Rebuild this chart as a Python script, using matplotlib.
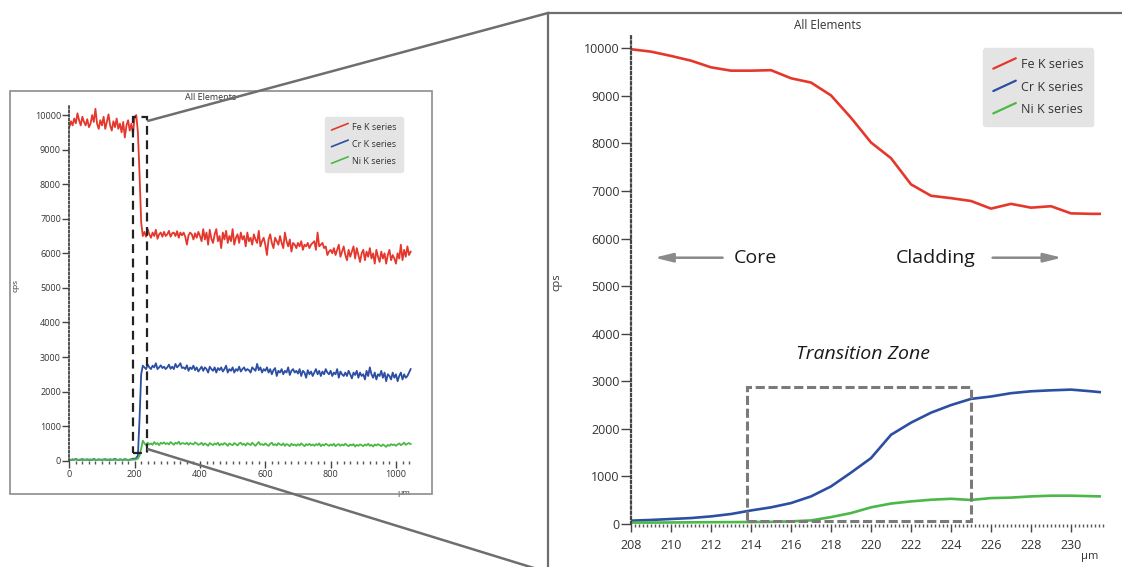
import numpy as np
import matplotlib
matplotlib.use("Agg")
import matplotlib.pyplot as plt
from matplotlib.lines import Line2D
from matplotlib.patches import Rectangle
from matplotlib.ticker import MultipleLocator
from matplotlib.legend_handler import HandlerBase

plt.rcParams['font.family'] = ['Open Sans', 'DejaVu Sans']

# ---------------- data ----------------
series_names = ["Fe K series", "Cr K series", "Ni K series"]
series_colors = ["#e5372c", "#2c4ea3", "#4cb847"]

overview_um = np.arange(0, 1050, 5)
fe_overview = [
    9650, 9820, 9700, 9900, 9760, 10050, 9850, 9700, 9950, 9800,
    9700, 9880, 9650, 9750, 10000, 9800, 10180, 9750, 9600, 9850,
    9700, 9950, 9600, 9800, 10020, 9700, 9550, 9820, 9650, 9900,
    9600, 9750, 9500, 9800, 9350, 9700, 9850, 9550, 9750, 9450,
    9950, 10000, 9500, 8300, 6900, 6500, 6620, 6480, 6700, 6550,
    6450, 6600, 6500, 6680, 6420, 6550, 6600, 6480, 6620, 6500,
    6550, 6650, 6480, 6580, 6600, 6500, 6640, 6450, 6600, 6520,
    6600, 6480, 6250, 6520, 6600, 6550, 6400, 6580, 6450, 6620,
    6500, 6350, 6700, 6400, 6600, 6250, 6680, 6420, 6300, 6550,
    6700, 6350, 6500, 6150, 6600, 6400, 6650, 6300, 6500, 6350,
    6700, 6250, 6450, 6550, 6300, 6600, 6400, 6500, 6200, 6600,
    6350, 6450, 6250, 6550, 6400, 6300, 6650, 6200, 6350, 6450,
    6250, 5950, 6400, 6550, 6300, 6150, 6450, 6350, 6250, 6500,
    6300, 6150, 6600, 6350, 6200, 6400, 6050, 6300, 6250, 6150,
    6300, 6200, 6350, 6100, 6250, 6200, 6300, 6150, 6250, 6300,
    6350, 6100, 6600, 6200, 6250, 6300, 6150, 6200, 5950, 6050,
    6100, 6000, 6150, 5950, 6100, 6250, 5900, 6050, 6200, 5950,
    5800, 6100, 5900, 6050, 6200, 5850, 6150, 5950, 5750, 6000,
    6100, 5800, 6050, 5900, 6150, 5850, 6000, 5700, 6100, 5900,
    5750, 6050, 5850, 6000, 5700, 5950, 6100, 5800, 5950, 5850,
    5700, 6000, 5850, 6250, 5800, 6100, 5900, 6200, 5950, 6050,
]
cr_overview = [
    30, 20, 40, 25, 50, 30, 20, 35, 45, 25,
    30, 40, 20, 35, 25, 50, 30, 20, 40, 30,
    25, 35, 45, 20, 30, 40, 25, 35, 50, 30,
    20, 40, 30, 25, 45, 35, 20, 30, 40, 60,
    50, 80, 150, 1200, 2500, 2750, 2700, 2650, 2780, 2700,
    2650, 2750, 2700, 2820, 2650, 2700, 2760, 2680, 2720, 2650,
    2700, 2780, 2660, 2720, 2650, 2800, 2700, 2750, 2820, 2680,
    2700, 2650, 2760, 2600, 2700, 2650, 2750, 2620, 2700, 2580,
    2650, 2720, 2600, 2700, 2650, 2550, 2720, 2650, 2600, 2700,
    2550, 2680, 2620, 2700, 2580, 2650, 2750, 2550, 2650, 2600,
    2700, 2550, 2650, 2600, 2720, 2580, 2650, 2700, 2600, 2650,
    2620, 2550, 2700, 2650, 2600, 2800, 2620, 2700, 2550, 2650,
    2600, 2700, 2550, 2650, 2500, 2620, 2680, 2450, 2600, 2550,
    2650, 2500, 2600, 2550, 2700, 2480, 2600, 2650, 2550, 2600,
    2520, 2650, 2450, 2600, 2550, 2400, 2620, 2500, 2580, 2450,
    2550, 2650, 2500, 2600, 2450, 2580, 2500, 2650, 2550, 2500,
    2600, 2450, 2550, 2500, 2650, 2400, 2580, 2500, 2450, 2550,
    2450, 2600, 2500, 2380, 2550, 2480, 2600, 2400, 2550, 2450,
    2500, 2350, 2600, 2450, 2700, 2500, 2400, 2550, 2350, 2500,
    2450, 2600, 2400, 2550, 2300, 2500, 2450, 2350, 2550, 2400,
    2500, 2300, 2450, 2550, 2350, 2500, 2400, 2450, 2550, 2650,
]
ni_overview = [
    20, 30, 15, 25, 35, 20, 30, 25, 15, 30,
    25, 20, 35, 25, 15, 30, 20, 25, 35, 20,
    30, 25, 20, 35, 25, 15, 30, 20, 25, 30,
    20, 35, 25, 15, 30, 25, 20, 35, 25, 30,
    30, 40, 60, 150, 350, 580, 500, 450, 520, 470,
    500, 460, 540, 480, 510, 450, 520, 490, 530, 480,
    510, 470, 540, 500, 460, 520, 490, 550, 470, 510,
    500, 480, 520, 460, 510, 490, 470, 530, 500, 460,
    480, 520, 450, 500, 470, 430, 510, 480, 450, 500,
    470, 520, 440, 490, 460, 510, 480, 430, 500, 470,
    450, 510, 480, 440, 500, 520, 460, 490, 440, 510,
    480, 450, 520, 470, 430, 490, 540, 460, 480, 450,
    500, 460, 430, 490, 520, 450, 480, 440, 510, 470,
    450, 500, 430, 480, 460, 420, 490, 450, 470, 430,
    480, 440, 500, 460, 420, 480, 450, 490, 440, 470,
    430, 480, 450, 500, 420, 470, 440, 490, 460, 430,
    470, 440, 490, 420, 460, 480, 430, 470, 440, 490,
    450, 420, 470, 440, 480, 410, 460, 430, 470, 450,
    420, 470, 440, 490, 430, 460, 410, 470, 440, 480,
    450, 420, 470, 440, 400, 460, 430, 480, 450, 470,
    430, 470, 500, 450, 480, 520, 460, 490, 510, 480,
]

zoom_um = [208, 209, 210, 211, 212, 213, 214, 215, 216, 217, 218, 219, 220,
           221, 222, 223, 224, 225, 226, 227, 228, 229, 230, 231, 231.5]
fe_zoom = [9980, 9930, 9840, 9740, 9600, 9530, 9530, 9540, 9370, 9280, 9010, 8540, 8020,
           7690, 7140, 6900, 6850, 6790, 6630, 6730, 6650, 6680, 6530, 6520, 6520]
cr_zoom = [70, 85, 105, 125, 160, 210, 285, 350, 440, 580, 790, 1080, 1385,
           1875, 2130, 2340, 2500, 2630, 2680, 2750, 2790, 2810, 2825, 2790, 2770]
ni_zoom = [30, 30, 32, 35, 38, 40, 42, 45, 55, 75, 145, 230, 350,
           430, 475, 510, 530, 505, 545, 555, 580, 595, 595, 585, 580]

overview_box = (196, 239, 214, 9950)        # x0, x1, y0, y1 (µm, cps)
transition_box = (213.8, 225.0, 70, 2874)   # x0, x1, y0, y1 (µm, cps)

# ---------------- figure ----------------
W, H = 1122, 567
fig = plt.figure(figsize=(W / 100, H / 100), dpi=100)
fig.patch.set_facecolor("white")


def rect(x0, y0, x1, y1):
    return [x0 / W, 1 - y1 / H, (x1 - x0) / W, (y1 - y0) / H]


class DiagLine(HandlerBase):
    def create_artists(self, legend, orig_handle, xdescent, ydescent,
                       width, height, fontsize, trans):
        x0, y0 = -xdescent, -ydescent
        ln = Line2D([x0, x0 + width], [y0 + 0.05 * height, y0 + 1.05 * height],
                    color=orig_handle.get_color(), lw=orig_handle.get_linewidth(),
                    solid_capstyle='round', transform=trans)
        return [ln]


def style_axes(ax, tick_fs, ylen, xmaj, xmin_len, spine_lw):
    for s in ["top", "right", "bottom"]:
        ax.spines[s].set_visible(False)
    ax.spines["left"].set_linestyle((0, (1, 1.3)))
    ax.spines["left"].set_linewidth(spine_lw)
    ax.spines["left"].set_color("#444444")
    ax.tick_params(axis="y", which="major", length=ylen, width=1.0, color="#444444",
                   labelsize=tick_fs, labelcolor="#333333", pad=1)
    ax.tick_params(axis="x", which="major", length=xmaj, width=1.0, color="#444444",
                   labelsize=tick_fs, labelcolor="#333333", pad=2)
    ax.tick_params(axis="x", which="minor", length=xmin_len, width=1.0, color="#555555")
    ax.tick_params(axis="y", which="minor", length=0)
    ax.set_facecolor("none")


# ---------- left overview panel ----------
axL = fig.add_axes(rect(69.3, 106.4, 412.3, 460.7))
for vals, c in zip([fe_overview, cr_overview, ni_overview], series_colors):
    axL.plot(overview_um, vals, color=c, lw=1.3)
axL.set_xlim(0, 1050)
axL.set_ylim(0, 10250)
axL.yaxis.set_major_locator(MultipleLocator(1000))
axL.xaxis.set_major_locator(MultipleLocator(200))
axL.xaxis.set_minor_locator(MultipleLocator(20))
style_axes(axL, 6.5, 5, 5, 2, 1.3)
axL.add_patch(Rectangle((overview_box[0], overview_box[2]),
                        overview_box[1] - overview_box[0], overview_box[3] - overview_box[2],
                        fill=False, ec="#222222", lw=1.6, linestyle=(0, (4, 2.5)), zorder=5))
axL.text(0.413, 1.024, "All Elements", transform=axL.transAxes, ha="center",
         va="center", fontsize=6.5, color="#333333")
axL.set_ylabel("cps", fontsize=6, color="#333333")
axL.yaxis.set_label_coords(-0.144, 0.496)
axL.set_xlabel("µm", fontsize=6, color="#333333")
axL.xaxis.set_label_coords(0.974, -0.083)
hL = [Line2D([], [], color=c, lw=1.2) for c in series_colors]
legL = axL.legend(hL, series_names, loc="upper left",
                  bbox_to_anchor=(325 / W, 1 - 116.7 / H), bbox_transform=fig.transFigure,
                  handler_map={Line2D: DiagLine()}, fontsize=6.5, frameon=True, fancybox=True,
                  facecolor="#e4e4e4", edgecolor="#e4e4e4", framealpha=1,
                  handlelength=1.85, handleheight=0.75, handletextpad=0.4,
                  labelspacing=0.85, borderpad=0.72, borderaxespad=0)
for t in legL.get_texts():
    t.set_color("#333333")

# ---------- right zoomed panel ----------
axR = fig.add_axes(rect(631, 35, 1106, 524))
for vals, c in zip([fe_zoom, cr_zoom, ni_zoom], series_colors):
    axR.plot(zoom_um, vals, color=c, lw=1.9, solid_capstyle='butt')
axR.set_xlim(208, 208 + (1106 - 631) / 20)
axR.set_ylim(0, (524 - 35) / 0.04757)
axR.yaxis.set_major_locator(MultipleLocator(1000))
axR.xaxis.set_major_locator(MultipleLocator(2))
axR.xaxis.set_minor_locator(MultipleLocator(0.2))
style_axes(axR, 9, 7, 6, 2.5, 1.6)
axR.tick_params(axis="x", which="major", pad=5)
axR.add_patch(Rectangle((transition_box[0], transition_box[2]),
                        transition_box[1] - transition_box[0], transition_box[3] - transition_box[2],
                        fill=False, ec="#7a7a7a", lw=2.2, linestyle=(0, (3, 1.2)), zorder=5))
axR.text(0.413, 1.02, "All Elements", transform=axR.transAxes, ha="center",
         va="center", fontsize=8.5, color="#333333")
axR.set_ylabel("cps", fontsize=8, color="#333333")
axR.yaxis.set_label_coords(-0.145, 0.495)
axR.set_xlabel("µm", fontsize=8, color="#333333")
axR.xaxis.set_label_coords(0.966, -0.056)

axR.text(219.6, 3574, "Transition Zone", ha="center", va="center", fontsize=14,
         style="italic", color="#1a1a1a")
axR.text(214.2, 5598, "Core", ha="center", va="center", fontsize=14, color="#1a1a1a")
axR.text(223.25, 5598, "Cladding", ha="center", va="center", fontsize=14, color="#1a1a1a")
arrow_kw = dict(arrowstyle="-|>,head_length=0.9,head_width=0.22", color="#8a8a8a",
                lw=1.8, mutation_scale=12, shrinkA=0, shrinkB=0)
axR.annotate("", xy=(209.17, 5598), xytext=(212.58, 5598), arrowprops=arrow_kw)
axR.annotate("", xy=(229.55, 5598), xytext=(226.08, 5598), arrowprops=arrow_kw)

hR = [Line2D([], [], color=c, lw=1.6) for c in series_colors]
legR = axR.legend(hR, series_names, loc="upper left",
                  bbox_to_anchor=(983.3 / W, 1 - 48.3 / H), bbox_transform=fig.transFigure,
                  handler_map={Line2D: DiagLine()}, fontsize=9, frameon=True, fancybox=True,
                  facecolor="#e4e4e4", edgecolor="#e4e4e4", framealpha=1,
                  handlelength=1.8, handleheight=0.9, handletextpad=0.4,
                  labelspacing=0.75, borderpad=0.8, borderaxespad=0)
for t in legR.get_texts():
    t.set_color("#333333")

# ---------- overlay: frames and connector lines ----------
ov = fig.add_axes([0, 0, 1, 1], zorder=10)
ov.set_xlim(0, W)
ov.set_ylim(H, 0)
ov.axis("off")
ov.patch.set_alpha(0)
ov.add_patch(Rectangle((10, 91), 422, 403, fill=False, ec="#8c8c8c", lw=1.2))
ov.plot([548, W], [13, 13], color="#6e6e6e", lw=1.6, solid_capstyle="butt")
ov.plot([548, 548], [13, H], color="#6e6e6e", lw=1.6, solid_capstyle="butt")

to_ov = axL.transData + ov.transData.inverted()
p_top = to_ov.transform((overview_box[1], overview_box[3]))
p_bot = to_ov.transform((overview_box[1], overview_box[2]))
p_top = (p_top[0] + 1, p_top[1] + 4)
p_bot = (p_bot[0] + 1, p_bot[1] - 4)
ov.plot([p_top[0], 548], [p_top[1], 13], color="#6e6e6e", lw=1.8)
slope = 0.308
ov.plot([p_bot[0], 560], [p_bot[1], p_bot[1] + slope * (560 - p_bot[0])], color="#6e6e6e", lw=1.8)

fig.savefig("out.png", dpi=100, facecolor="white")
